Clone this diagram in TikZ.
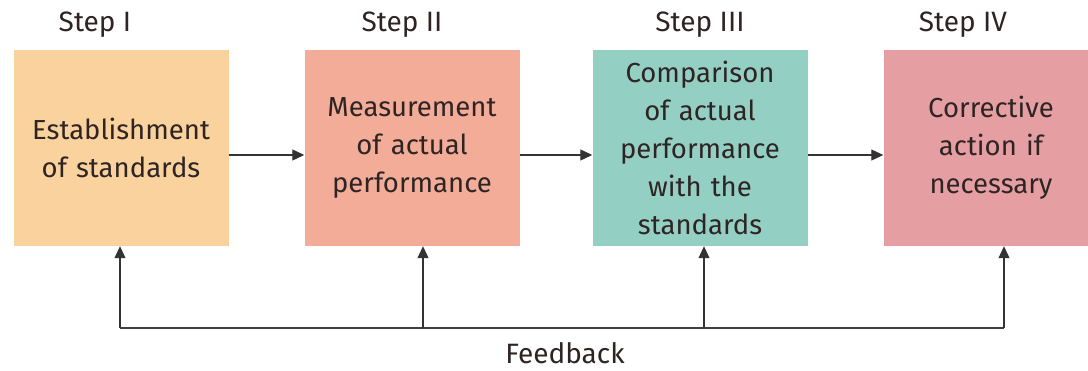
\documentclass[tikz,border=0pt]{standalone}
\usepackage{fontspec}
\setmainfont{Fira Sans}
\usetikzlibrary{arrows.meta}
\definecolor{cA}{HTML}{F9D29D}
\definecolor{cB}{HTML}{F2AC98}
\definecolor{cC}{HTML}{94CFC3}
\definecolor{cD}{HTML}{E59FA3}
\definecolor{txt}{HTML}{2E2424}
\begin{document}
\begin{tikzpicture}[x=1pt,y=-1pt,
  stepbox/.style={fill=#1, draw=none, minimum width=215pt, minimum height=196pt, inner sep=0pt, align=center, text=txt, font=\fontsize{27.5}{38}\selectfont, text width=210pt},
  steplabel/.style={text=txt, font=\fontsize{28}{30}\selectfont, inner sep=0pt},
  conn/.style={draw=black!80, line width=1.1pt, -{Triangle[length=12pt,width=11pt]}},
  fb/.style={draw=black!75, line width=1.1pt}]
\useasboundingbox (0,0) rectangle (1088,371);
\node[stepbox=cA] (b1) at (121,148) {Establishment\\of standards};
\node[stepbox=cB] (b2) at (412,148) {Measurement\\of actual\\performance};
\node[stepbox=cC] (b3) at (700,148) {Comparison\\of actual\\performance\\with the\\standards};
\node[stepbox=cD] (b4) at (991,148) {Corrective\\action if\\necessary};
\node[steplabel] (s1) at (95,25) {Step I};
\node[steplabel] (s2) at (402,25) {Step II};
\node[steplabel] (s3) at (700,25) {Step III};
\node[steplabel] (s4) at (963,25) {Step IV};
\node[steplabel] (fbl) at (565,353) {Feedback};
\draw[conn] (b1.east |- 0,155) -- (b2.west |- 0,155);
\draw[conn] (b2.east |- 0,155) -- (b3.west |- 0,155);
\draw[conn] (b3.east |- 0,155) -- (b4.west |- 0,155);
\coordinate (f1) at (120,328);
\coordinate (f2) at (423,328);
\coordinate (f3) at (704,328);
\coordinate (f4) at (1004,328);
\draw[fb] (f1) -- (f4);
\draw[conn] (f1) -- (f1 |- b1.south);
\draw[conn] (f2) -- (f2 |- b2.south);
\draw[conn] (f3) -- (f3 |- b3.south);
\draw[conn] (f4) -- (f4 |- b4.south);
\end{tikzpicture}
\end{document}
